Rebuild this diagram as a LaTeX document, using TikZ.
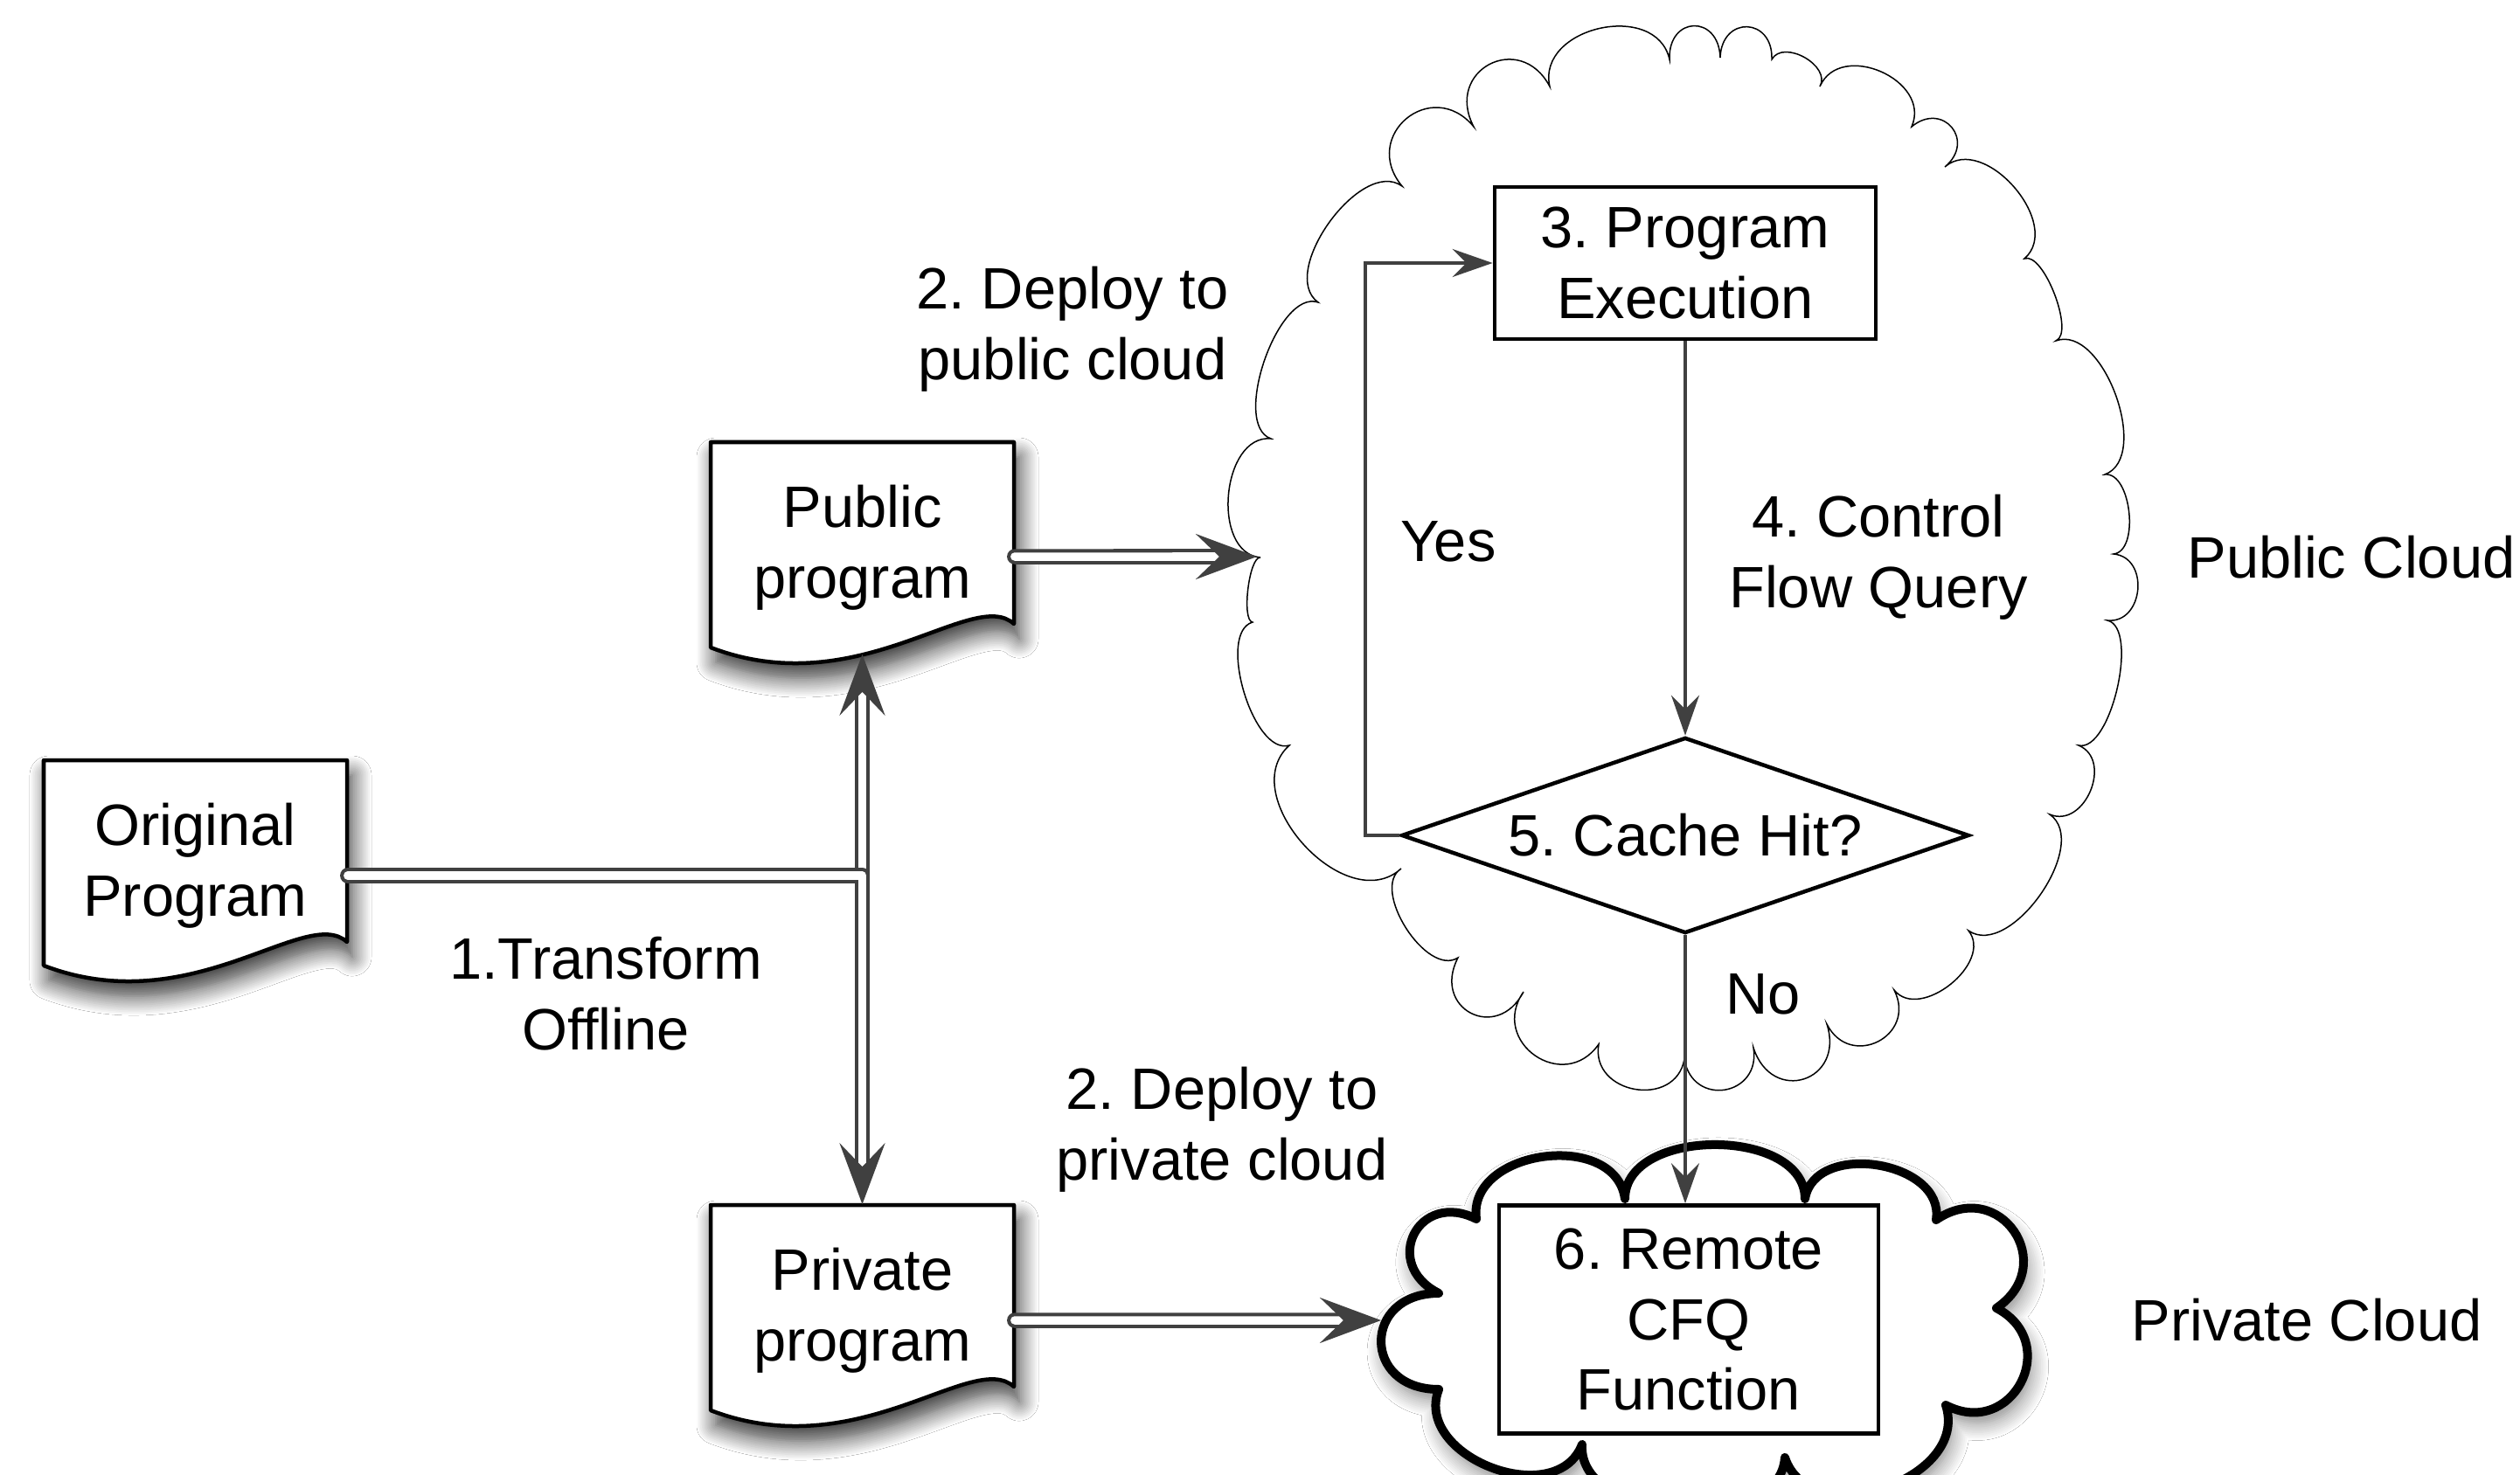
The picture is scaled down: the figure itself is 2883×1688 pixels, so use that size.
\documentclass[tikz,border=0pt]{standalone}
\usepackage{fontspec}
\setmainfont{Liberation Sans}
\usetikzlibrary{arrows.meta,calc,shapes.geometric,shadows.blur}
\definecolor{dgray}{HTML}{404040}
\tikzset{
 pxs/.style={x=0.01cm,y=-0.01cm},
 txt/.style={font=\fontsize{19}{23}\selectfont\frenchspacing, align=center, inner sep=0pt},
 docnode/.style={minimum width=3.47cm, minimum height=2.42cm, inner sep=0pt, txt},
 docshape/.style={draw=black, line width=0.045cm, fill=white, line join=round,
   blur shadow={shadow xshift=0.06cm, shadow yshift=-0.17cm, shadow blur radius=0.22cm, shadow opacity=80, shadow blur steps=12}},
 boxnode/.style={draw=black, line width=0.045cm, fill=white, inner sep=0pt, txt},
 conn/.style={draw=dgray, line width=0.04cm, -{Stealth[length=0.46cm, width=0.32cm, inset=0.16cm]}},
 dbl/.style={draw=dgray, line width=0.04cm, double=white, double distance=0.095cm, line cap=round, line join=round, -{Stealth[length=0.7cm, width=0.52cm, inset=0.27cm]}},
 pb/.style={bend left=90, looseness=#1},
}
\newcommand\docshape[2]{\path[docshape] (#1,#2) -- ($(#1,#2)+(347,0)$) -- ($(#1,#2)+(347,208)$) .. controls ($(#1,#2)+(300,165)$) and ($(#1,#2)+(170,300)$) .. ($(#1,#2)+(0,235)$) -- cycle;}
\begin{document}
\begin{tikzpicture}[pxs]
\useasboundingbox (0,0) rectangle (2883,1688);
\fill[white] (0,0) rectangle (2883,1688);

% ---------- public cloud ----------
\coordinate (p1) at (1442,638);  \coordinate (p2) at (1454,502);
\coordinate (p3) at (1508,346);  \coordinate (p4) at (1604,213);
\coordinate (p5) at (1686,145);  \coordinate (p6) at (1773,99);
\coordinate (p7) at (1910,68);   \coordinate (p8) at (1968,66);
\coordinate (p9) at (2027,68);   \coordinate (p10) at (2082,99);
\coordinate (p11) at (2187,145); \coordinate (p12) at (2225,191);
\coordinate (p13) at (2316,296); \coordinate (p14) at (2352,390);
\coordinate (p15) at (2408,543); \coordinate (p16) at (2418,634);
\coordinate (p17) at (2411,710); \coordinate (p18) at (2378,853);
\coordinate (p19) at (2345,932); \coordinate (p20) at (2252,1065);
\coordinate (p21) at (2167,1133);\coordinate (p22) at (2090,1172);
\coordinate (p23) at (2006,1199);\coordinate (p24) at (1927,1212);
\coordinate (p25) at (1829,1195);\coordinate (p26) at (1743,1135);
\coordinate (p27) at (1668,1096);\coordinate (p28) at (1603,994);
\coordinate (p29) at (1475,853); \coordinate (p30) at (1433,712);
\draw[black, line width=0.015cm, fill=white]
 (p1) to[pb=1.07] (p2) to[pb=0.75] (p3) to[pb=0.9] (p4) to[pb=1.8] (p5)
 to[pb=1.9] (p6) to[pb=1.27] (p7) to[pb=2.2] (p8) to[pb=2.1] (p9)
 to[pb=1.1] (p10) to[pb=1.3] (p11) to[pb=2.0] (p12) to[pb=1.1] (p13)
 to[pb=0.6] (p14) to[pb=0.9] (p15) to[pb=0.85] (p16) to[pb=1.4] (p17)
 to[pb=0.66] (p18) to[pb=1.3] (p19) to[pb=0.92] (p20) to[pb=1.1] (p21)
 to[pb=1.75] (p22) to[pb=2.0] (p23) to[pb=1.8] (p24) to[pb=1.5] (p25)
 to[pb=1.7] (p26) to[pb=2.0] (p27) to[pb=0.9] (p28) to[pb=1.15] (p29)
 to[pb=0.75] (p30) to[pb=0.45] (p1);

% ---------- private cloud ----------
\coordinate (q1) at (1646,1590); \coordinate (q2) at (1646,1480);
\coordinate (q3) at (1689,1395); \coordinate (q4) at (1859,1372);
\coordinate (q5) at (2065,1372); \coordinate (q6) at (2215,1396);
\coordinate (q7) at (2284,1497); \coordinate (q8) at (2226,1608);
\coordinate (q9) at (2042,1668); \coordinate (q10) at (1810,1653);
\draw[black, line width=0.1cm, line join=round, fill=white,
  blur shadow={shadow xshift=0.04cm, shadow yshift=-0.12cm, shadow blur radius=0.2cm, shadow opacity=50, shadow blur steps=10}]
 (q1) to[pb=2.05] (q2) to[pb=2.0] (q3) to[pb=1.2] (q4) to[pb=1.03] (q5)
 to[pb=1.15] (q6) to[pb=1.85] (q7) to[pb=1.75] (q8) to[pb=1.2] (q9)
 to[pb=1.0] (q10) to[pb=1.2] (q1) -- cycle;

% ---------- documents ----------
\docshape{50}{870}
\docshape{813}{506}
\docshape{813}{1379}
\node[docnode] (orig) at (223.5,991) {Original\\Program};
\node[docnode] (pub) at (986.5,627) {Public\\program};
\node[docnode] (priv) at (986.5,1500) {Private\\program};

% ---------- flow nodes ----------
\node[boxnode, minimum width=4.36cm, minimum height=1.74cm] (box3) at (1928,301) {3. Program\\Execution};
\node[draw=black, line width=0.045cm, fill=white, diamond, shape aspect=2.9, minimum width=6.49cm, minimum height=2.24cm, txt] (dia) at (1928,956) {5. Cache Hit?};
\node[boxnode, minimum width=4.34cm, minimum height=2.61cm] (box6) at (1932,1510) {6. Remote\\CFQ\\Function};

% ---------- double connectors ----------
\coordinate (jn) at (986.5,1002);
\coordinate (pin) at (1438,637);
\coordinate (prin) at (1580,1511);
\draw[dbl] (jn) -- (pub.south);
\draw[dbl] ([yshift=-0.11cm]orig.east) -| (priv.north);
\draw[dbl] ([yshift=-0.1cm]pub.east) -- (pin);
\draw[dbl] ([yshift=-0.11cm]priv.east) -- (prin);

% ---------- single connectors ----------
\draw[conn] (box3.south) -- (dia.north);
\draw[conn] (dia.west) -- ++(-39,0) |- (box3.west);
\draw[conn] (dia.south) -- (dia.south |- box6.north);

% ---------- labels ----------
\node[txt] (lbldeppub) at (1227,376.5) {2. Deploy to\\public cloud};
\node[txt] (lbldeppriv) at (1398,1292.5) {2. Deploy to\\private cloud};
\node[txt] (lbltrans) at (693,1137.5) {1.Transform\\Offline};
\node[txt] (lblcfq) at (2149,638) {4. Control\\Flow Query};
\node[txt] (lblyes) at (1657,620) {Yes};
\node[txt] (lblno) at (2017,1138) {No};
\node[txt] (lblpub) at (2690,638) {Public Cloud};
\node[txt] (lblpriv) at (2639,1511) {Private Cloud};
\end{tikzpicture}
\end{document}
